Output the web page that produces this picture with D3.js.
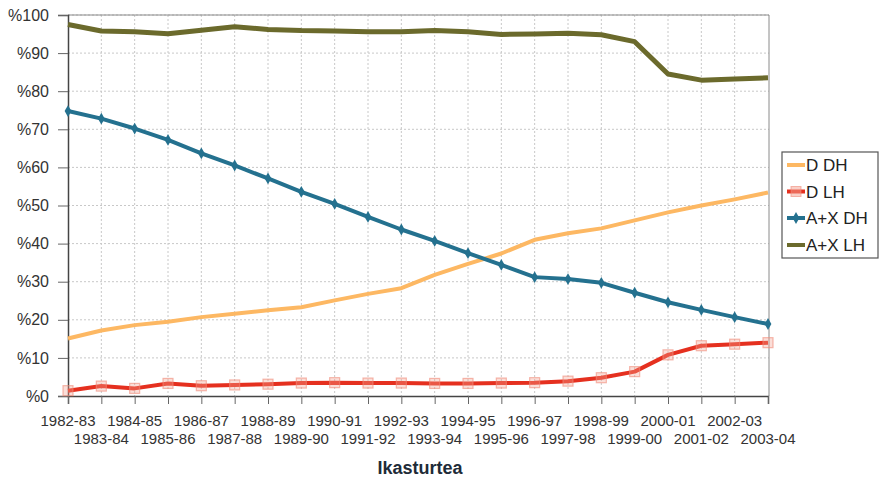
<!DOCTYPE html>
<html><head><meta charset="utf-8">
<script src="https://cdn.jsdelivr.net/npm/d3@7"></script>
<style>
html,body{margin:0;padding:0;background:#fff;}
svg{display:block;font-family:"Liberation Sans",Arial,sans-serif;}
</style></head>
<body><svg id="chart" width="881" height="479"></svg>
<script>
const categories = ["1982-83","1983-84","1984-85","1985-86","1986-87","1987-88","1988-89","1989-90","1990-91","1991-92","1992-93","1993-94","1994-95","1995-96","1996-97","1997-98","1998-99","1999-00","2000-01","2001-02","2002-03","2003-04"];
const dDH  = [15.1,17.2,18.6,19.5,20.7,21.6,22.5,23.3,25.1,26.8,28.3,31.8,34.7,37.4,41.0,42.7,44.0,46.1,48.2,50.0,51.6,53.4];
const dLH  = [1.4,2.6,2.0,3.3,2.7,2.9,3.1,3.4,3.5,3.4,3.4,3.3,3.3,3.4,3.5,3.9,4.8,6.4,10.8,13.2,13.6,14.0];
const axDH = [74.8,72.8,70.2,67.2,63.7,60.5,57.1,53.6,50.4,47.0,43.7,40.7,37.5,34.4,31.2,30.7,29.7,27.1,24.6,22.6,20.7,18.9];
const axLH = [97.5,95.8,95.6,95.1,96.0,96.9,96.2,95.9,95.8,95.6,95.6,95.9,95.6,94.9,95.0,95.2,94.8,93.0,84.5,82.9,83.2,83.5];
const yTicks = [0,10,20,30,40,50,60,70,80,90,100];
const seriesNames = ["D DH","D LH","A+X DH","A+X LH"];
const colors = ["#fdb863","#e5301f","#24718f","#6b6a2c"];
const xTitle = "Ikasturtea";

const svg = d3.select("#chart");
const L = 68, R = 768, T = 15, B = 396;
const x = d3.scalePoint().domain(categories).range([L, R]);
const y = d3.scaleLinear().domain([0,100]).range([B, T]);

// grid
const g = svg.append("g");
g.selectAll(".hg").data(yTicks.filter(d=>d>0)).enter().append("line")
  .attr("x1", L).attr("x2", R+1).attr("y1", d=>y(d)).attr("y2", d=>y(d))
  .attr("stroke", "#c8c8c8").attr("stroke-width", 1).attr("stroke-dasharray","2,2");
g.selectAll(".vg").data(categories.slice(1, -1)).enter().append("line")
  .attr("x1", d=>x(d)).attr("x2", d=>x(d)).attr("y1", T).attr("y2", B)
  .attr("stroke", "#c8c8c8").attr("stroke-width", 1).attr("stroke-dasharray","2,2");

// frame top/right
svg.append("line").attr("x1", L).attr("x2", R+1).attr("y1", T).attr("y2", T).attr("stroke","#8a8a8a");
svg.append("line").attr("x1", R+1).attr("x2", R+1).attr("y1", T).attr("y2", B).attr("stroke","#8a8a8a");

// axes
const yAxis = svg.append("g").attr("transform", `translate(${L},0)`)
  .call(d3.axisLeft(y).tickValues(yTicks).tickSize(10).tickPadding(9).tickFormat(d=>"%"+d));
yAxis.select(".domain").attr("stroke","#444").attr("stroke-width",1.5);
yAxis.selectAll(".tick line").attr("stroke","#666");
yAxis.selectAll("text").attr("font-size","16px").attr("fill","#333")
  .attr("font-family","'Liberation Sans',Arial,sans-serif");

const xAxis = svg.append("g").attr("transform", `translate(0,${B})`)
  .call(d3.axisBottom(x).tickSize(8).tickFormat(""));
xAxis.select(".domain").attr("stroke","#444").attr("stroke-width",1.5);
xAxis.selectAll(".tick line").attr("stroke","#666");

svg.append("g").selectAll("text").data(categories).enter().append("text")
  .attr("x", d=>x(d)).attr("y", (d,i)=> i%2===0 ? 426 : 444)
  .attr("text-anchor","middle").attr("font-size","15px").attr("fill","#333")
  .text(d=>d);

svg.append("text").attr("x", 420).attr("y", 474).attr("text-anchor","middle")
  .attr("font-size","18px").attr("font-weight","bold").attr("fill","#1e2b38").text(xTitle);

// lines
const data = [dDH, dLH, axDH, axLH];
const widths = [4, 4, 4, 5];
const line = d3.line().x((d,i)=>x(categories[i])).y(d=>y(d)).curve(d3.curveLinear);
data.forEach((s, k) => {
  svg.append("path").datum(s).attr("d", line).attr("fill","none")
    .attr("stroke", colors[k]).attr("stroke-width", widths[k]).attr("stroke-linejoin","round");
});
// markers D LH squares
svg.append("g").selectAll("rect").data(dLH).enter().append("rect")
  .attr("x",(d,i)=>x(categories[i])-5).attr("y", d=>y(d)-5).attr("width",10).attr("height",10)
  .attr("fill","#f3a090").attr("fill-opacity",0.35).attr("stroke","#f08a78").attr("stroke-opacity",0.6).attr("stroke-width",1.2);
// markers A+X DH diamonds
svg.append("g").selectAll("path").data(axDH).enter().append("path")
  .attr("d", d3.symbol().type(d3.symbolDiamond).size(40))
  .attr("transform",(d,i)=>`translate(${x(categories[i])},${y(d)})`)
  .attr("fill", colors[2]);

// legend
const lg = svg.append("g");
lg.append("rect").attr("x",782).attr("y",152).attr("width",96).attr("height",106)
  .attr("fill","#fff").attr("stroke","#555").attr("stroke-width",1.2);
const ly = [165, 191.5, 218, 245];
seriesNames.forEach((n,k)=>{
  lg.append("line").attr("x1",787).attr("x2",805).attr("y1",ly[k]).attr("y2",ly[k])
    .attr("stroke",colors[k]).attr("stroke-width", 4);
  if (k===1) lg.append("rect").attr("x",791).attr("y",ly[k]-5).attr("width",10).attr("height",10)
    .attr("fill","#f3a090").attr("fill-opacity",0.5).attr("stroke","#f08a78").attr("stroke-opacity",0.6);
  if (k===2) lg.append("path").attr("d", d3.symbol().type(d3.symbolDiamond).size(40))
    .attr("transform",`translate(796,${ly[k]})`).attr("fill",colors[2]);
  lg.append("text").attr("x",806).attr("y",ly[k]+6).attr("font-size","17px").attr("fill","#222").text(n);
});
</script></body></html>
